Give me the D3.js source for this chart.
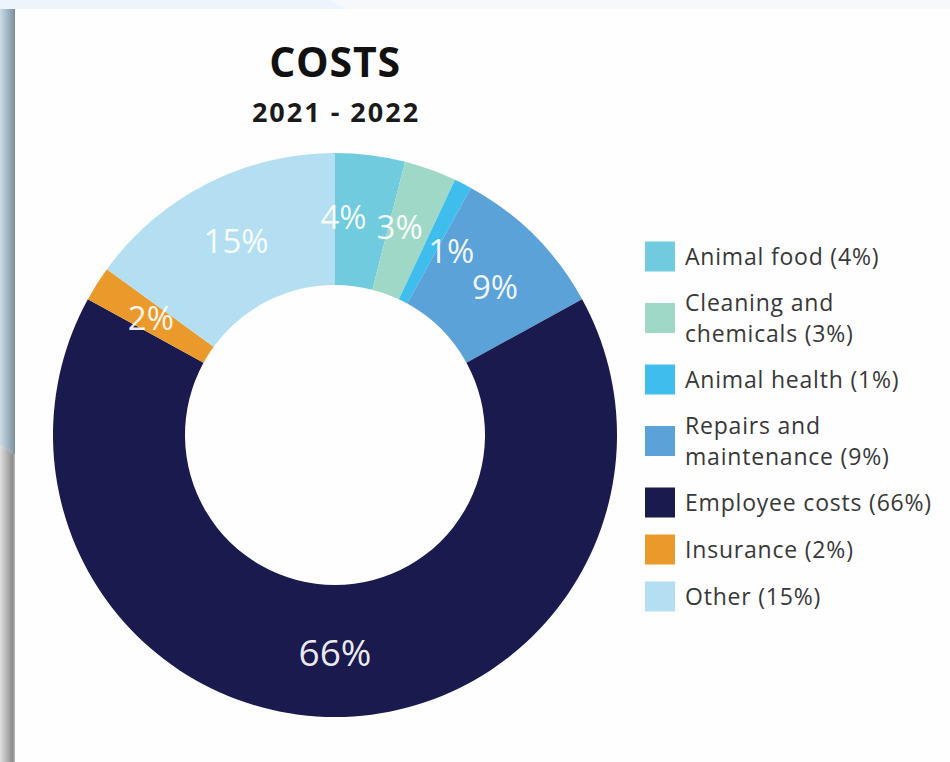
<!DOCTYPE html>
<html>
<head>
<meta charset="utf-8">
<script src="https://cdn.jsdelivr.net/npm/d3@7"></script>
<style>
  html, body { margin: 0; padding: 0; background: #edf5fc; }
  svg { display: block; }
</style>
</head>
<body>
<svg id="chart" width="950" height="762"></svg>
<script>
// Cost breakdown 2021-2022, in percent
const categories = ["Animal food", "Cleaning and chemicals", "Animal health", "Repairs and maintenance", "Employee costs", "Insurance", "Other"];
const values = [4, 3, 1, 9, 66, 2, 15];
const colors = ["#70cbde", "#9fd8c7", "#3fbeee", "#5ba2d9", "#1b1a4e", "#ea9a2b", "#b4dff2"];
// legend wording, broken onto lines
const legendLines = [
  ["Animal food"],
  ["Cleaning and", "chemicals"],
  ["Animal health"],
  ["Repairs and", "maintenance"],
  ["Employee costs"],
  ["Insurance"],
  ["Other"]
];
const title = "COSTS";
const subtitle = "2021 - 2022";

const W = 950, H = 762;
const svg = d3.select("#chart");
const font = "'Open Sans', 'Noto Sans', sans-serif";

// ---- backdrop: page, card and its shadowed left edge ----
const defs = svg.append("defs");
const gBlue = defs.append("linearGradient").attr("id", "edgeBlue").attr("x1", 0).attr("x2", 1).attr("y1", 0).attr("y2", 0);
gBlue.append("stop").attr("offset", 0).attr("stop-color", "#cddde7");
gBlue.append("stop").attr("offset", 1).attr("stop-color", "#7890a0");
const gGrey = defs.append("linearGradient").attr("id", "edgeGrey").attr("x1", 0).attr("x2", 1).attr("y1", 0).attr("y2", 0);
gGrey.append("stop").attr("offset", 0).attr("stop-color", "#e0e0e0");
gGrey.append("stop").attr("offset", 0.85).attr("stop-color", "#8c8c8c");
gGrey.append("stop").attr("offset", 1).attr("stop-color", "#bdbdbd");

svg.append("rect").attr("width", W).attr("height", H).attr("fill", "#edf5fc");
svg.append("polygon").attr("points", "330,0 950,0 950,9 346,9").attr("fill", "#f6f8fa");
svg.append("polygon").attr("points", "0,9 15,9 15,455 0,445").attr("fill", "url(#edgeBlue)");
svg.append("polygon").attr("points", "0,445 15,455 15,762 0,762").attr("fill", "url(#edgeGrey)");
svg.append("rect").attr("x", 15).attr("y", 9).attr("width", W - 15).attr("height", H - 9).attr("fill", "#fefefe");

// ---- titles ----
svg.append("text").attr("x", 335).attr("y", 77).attr("text-anchor", "middle")
  .attr("font-family", font).attr("font-weight", 700).attr("font-size", 41)
  .attr("letter-spacing", 0.8).attr("fill", "#111").text(title);
svg.append("text").attr("x", 336).attr("y", 122).attr("text-anchor", "middle")
  .attr("font-family", font).attr("font-weight", 700).attr("font-size", 27)
  .attr("letter-spacing", 2).attr("fill", "#1a1a1a").text(subtitle);

// ---- donut ----
const cx = 335, cy = 435, rOuter = 282, rInner = 150;
const data = categories.map((c, i) => ({ name: c, value: values[i], color: colors[i] }));
const pie = d3.pie().sort(null).value(d => d.value);
const arcs = pie(data);
const arc = d3.arc().innerRadius(rInner).outerRadius(rOuter);

const g = svg.append("g").attr("transform", `translate(${cx},${cy})`);
g.selectAll("path.slice").data(arcs).join("path")
  .attr("class", "slice")
  .attr("d", arc)
  .attr("fill", d => d.data.color);

// label angles start at the slice centroids; crowded neighbours are
// pushed apart symmetrically until they keep a minimum angular gap
const minGap = 15 * Math.PI / 180;
const labelAngles = arcs.map(a => (a.startAngle + a.endAngle) / 2);
for (let iter = 0; iter < 200; iter++) {
  let moved = false;
  for (let i = 1; i < labelAngles.length; i++) {
    const gap = labelAngles[i] - labelAngles[i - 1];
    if (gap < minGap - 1e-6) {
      const push = (minGap - gap) / 2;
      labelAngles[i - 1] -= push;
      labelAngles[i] += push;
      moved = true;
    }
  }
  if (!moved) break;
}
const rLabel = (rInner + rOuter) / 2 + 2;
g.selectAll("text.pct").data(arcs).join("text")
  .attr("class", "pct")
  .attr("x", (d, i) => rLabel * Math.sin(labelAngles[i]))
  .attr("y", (d, i) => -rLabel * Math.cos(labelAngles[i]))
  .attr("dy", "0.36em")
  .attr("text-anchor", "middle")
  .attr("font-family", font)
  .attr("font-size", d => d.data.value >= 50 ? 37 : 33)
  .attr("fill", "#ffffff")
  .attr("fill-opacity", 0.93)
  .text(d => d.data.value + "%");

// ---- legend ----
const lx = 645, sw = 30, lineH = 31.5;
let yCursor = 233;
const legend = svg.append("g");
data.forEach((d, i) => {
  const lines = legendLines[i].slice();
  lines[lines.length - 1] += ` (${d.value}%)`;
  const h = 18 + 29 * lines.length;
  const yc = yCursor + h / 2;
  legend.append("rect").attr("x", lx).attr("y", yc - sw / 2)
    .attr("width", sw).attr("height", sw).attr("fill", d.color);
  const t = legend.append("text").attr("font-family", font).attr("font-size", 23)
    .attr("letter-spacing", 0.8).attr("fill", "#383838");
  lines.forEach((ln, k) => {
    t.append("tspan").attr("x", lx + 40)
      .attr("y", yc + 8.5 + (k - (lines.length - 1) / 2) * lineH)
      .text(ln);
  });
  yCursor += h;
});
</script>
</body>
</html>
